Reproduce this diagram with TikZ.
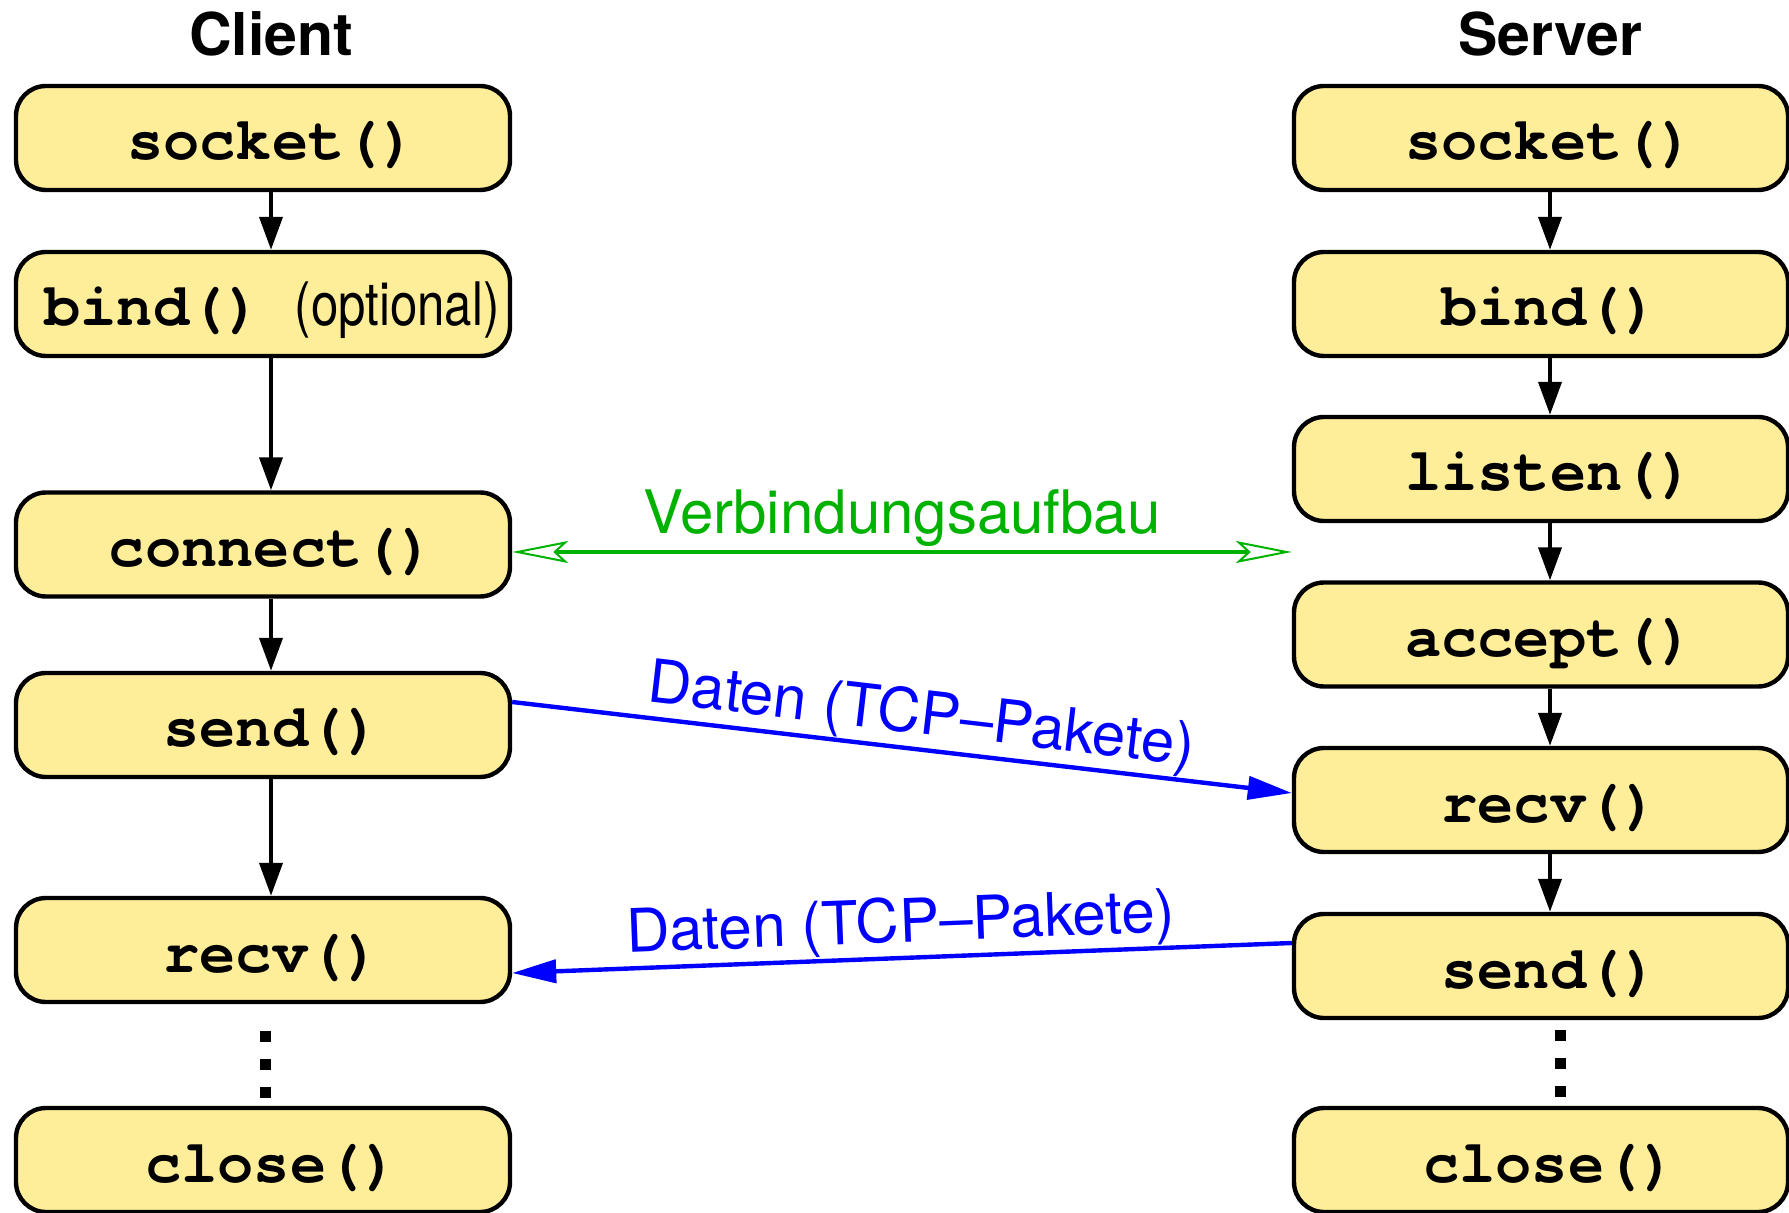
\documentclass[tikz,border=0pt]{standalone}
\usepackage{fontspec}
\setmainfont{TeX Gyre Heros}
\newfontfamily\narrowfont{TeX Gyre Heros}[FakeStretch=0.82]
\newfontfamily\codefont{TeX Gyre Cursor}
\usepackage{tikz}
\usetikzlibrary{positioning,arrows.meta}
\definecolor{callfill}{RGB}{255,238,153}
\definecolor{setupgreen}{RGB}{0,178,0}
\tikzset{
  call/.style={
    draw, line width=2.2pt,
    rounded corners=15pt,
    fill=callfill,
    minimum width=247pt, minimum height=52pt,
    text height=22pt, text depth=0pt,
    execute at begin node={\hspace*{9pt}},
    font=\codefont\bfseries\fontsize{30.2pt}{34pt}\selectfont
  },
  side/.style={font=\bfseries\fontsize{29.5pt}{34pt}\selectfont},
  flow/.style={draw, line width=2pt, -{Triangle[length=16.5pt,width=11.5pt]}},
  packet/.style={draw=blue, line width=2.2pt,
    -{Triangle[length=22pt,width=11.5pt]}},
  packetlabel/.style={text=blue, sloped, above, inner sep=0.5pt,
    font=\fontsize{30pt}{36pt}\selectfont},
  handshake/.style={draw=setupgreen, line width=2pt,
    {Stealth[open,length=28pt,width=11pt,inset=6pt,line width=1pt]}-{Stealth[open,length=28pt,width=11pt,inset=6pt,line width=1pt]}},
  dot/.style={fill, minimum size=5.5pt, inner sep=0pt}
}

\begin{document}
\begin{tikzpicture}
          \useasboundingbox (0,0) rectangle (894.5pt,-606.5pt);
          % client side
          \node[call] (csocket) at (131.5pt,-69pt) {socket()};
          \node[call, on grid, below=83pt of csocket] (cbind)
          {bind()\hspace{16.5pt}{\narrowfont\mdseries\fontsize{30pt}{36pt}\selectfont (optional)}};
          \node[call, on grid, below=120.25pt of cbind] (cconnect) {connect()};
          \node[call, on grid, below=90.25pt of cconnect] (csend) {send()};
          \node[call, on grid, below=112.5pt of csend] (crecv) {recv()};
          \node[call, on grid, below=105pt of crecv] (cclose) {close()};
          \node[side, above=14pt of csocket.north, xshift=4pt,
          anchor=base] (ctitle) {Client};
          \node[dot, on grid, below=43pt of crecv, xshift=1pt] (cdota) {};
          \node[dot, on grid, below=14pt of cdota] (cdotb) {};
          \node[dot, on grid, below=14pt of cdotb] (cdotc) {};
          % server side
          \node[call] (ssocket) at (770.5pt,-69pt) {socket()};
          \node[call, on grid, below=83pt of ssocket] (sbind) {bind()};
          \node[call, on grid, below=82.5pt of sbind] (slisten) {listen()};
          \node[call, on grid, below=82.75pt of slisten] (saccept) {accept()};
          \node[call, on grid, below=82.75pt of saccept] (srecv) {recv()};
          \node[call, on grid, below=83pt of srecv] (ssend) {send()};
          \node[call, on grid, below=97pt of ssend] (sclose) {close()};
          \node[side, above=14pt of ssocket.north, xshift=4.5pt,
          anchor=base] (stitle) {Server};
          \node[dot, on grid, below=34.5pt of ssend, xshift=9.5pt] (sdota) {};
          \node[dot, on grid, below=14pt of sdota] (sdotb) {};
          \node[dot, on grid, below=14pt of sdotb] (sdotc) {};
          % call order
          \draw[flow] ([xshift=4pt]csocket.south) to ([xshift=4pt]cbind.north);
          \draw[flow] ([xshift=4pt]cbind.south) to ([xshift=4pt]cconnect.north);
          \draw[flow] ([xshift=4pt]cconnect.south) to ([xshift=4pt]csend.north);
          \draw[flow] ([xshift=4pt]csend.south) to ([xshift=4pt]crecv.north);
          \draw[flow] ([xshift=4.5pt]ssocket.south) to ([xshift=4.5pt]sbind.north);
          \draw[flow] ([xshift=4.5pt]sbind.south) to ([xshift=4.5pt]slisten.north);
          \draw[flow] ([xshift=4.5pt]slisten.south) to ([xshift=4.5pt]saccept.north);
          \draw[flow] ([xshift=4.5pt]saccept.south) to ([xshift=4.5pt]srecv.north);
          \draw[flow] ([xshift=4.5pt]srecv.south) to ([xshift=4.5pt]ssend.north);
          % connection setup and data
          \coordinate (cconn) at ([yshift=-3.75pt]cconnect.east);
          \coordinate (sconn) at (cconn -| slisten.west);
          \draw[handshake] (cconn) to node[above, text=setupgreen,
          inner sep=1.5pt, font=\fontsize{30pt}{36pt}\selectfont] (setup)
          {Verbindungsaufbau} (sconn);
          \draw[packet] ([yshift=11.5pt]csend.east) to node[packetlabel,
          pos=0.52] (tocs) {Daten (TCP--Pakete)} ([yshift=3.5pt]srecv.west);
          \draw[packet] ([yshift=11.5pt]ssend.west) to node[packetlabel]
          (tocl) {Daten (TCP--Pakete)} ([yshift=-11.5pt]crecv.east);
        \end{tikzpicture}
\end{document}
